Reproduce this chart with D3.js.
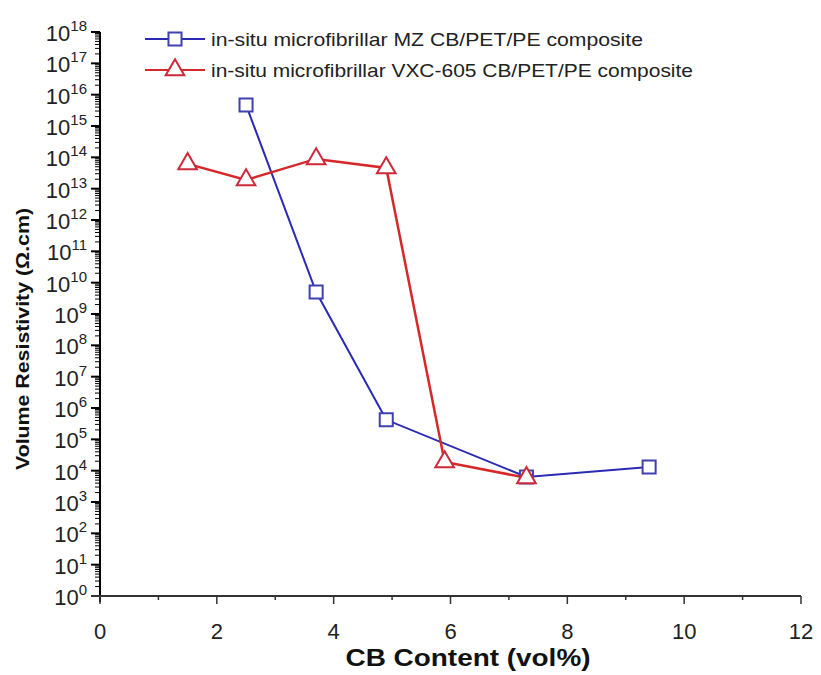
<!DOCTYPE html>
<html>
<head>
<meta charset="utf-8">
<script src="https://cdn.jsdelivr.net/npm/d3@7"></script>
<style>
  body { margin: 0; background: #fff; }
  text { font-family: "Liberation Sans", Arial, sans-serif; }
</style>
</head>
<body>
<svg id="chart"></svg>
<script>
// CB content (vol%) and volume resistivity (ohm.cm)
const mzX = [2.5, 3.7, 4.9, 7.3, 9.4];
const mzY = [4.7e15, 5.0e9, 4.2e5, 6.3e3, 1.3e4];
const vxcX = [1.5, 2.5, 3.7, 4.9, 5.9, 7.3];
const vxcY = [6.2e13, 1.9e13, 8.9e13, 4.6e13, 1.9e4, 5.9e3];

const seriesNames = [
  "in-situ microfibrillar MZ CB/PET/PE composite",
  "in-situ microfibrillar VXC-605 CB/PET/PE composite"
];
const xTicks = [0, 2, 4, 6, 8, 10, 12];
const yExponents = d3.range(0, 19);

const width = 821;
const height = 675;

const svg = d3.select("#chart").attr("width", width).attr("height", height);

const x = d3.scaleLinear().domain([0, 12]).range([100, 801]);
const y = d3.scaleLog().domain([1, 1e18]).range([596, 32]);

const blue = "#2a2ab4";
const red = "#d62828";

// y axis: line, major + minor ticks
const yAxis = svg.append("g");
yAxis.append("line")
  .attr("x1", x(0)).attr("x2", x(0))
  .attr("y1", y(1e18)).attr("y2", y(1) + 6)
  .attr("stroke", "#000").attr("stroke-width", 2);

const minorVals = [];
yExponents.slice(0, -1).forEach(e => {
  for (let m = 2; m <= 9; m++) minorVals.push(m * Math.pow(10, e));
});
yAxis.selectAll(".minor")
  .data(minorVals)
  .enter()
  .append("line")
  .attr("x1", x(0) - 5).attr("x2", x(0))
  .attr("y1", d => y(d)).attr("y2", d => y(d))
  .attr("stroke", "#000").attr("stroke-width", 1);

yAxis.selectAll(".major")
  .data(yExponents)
  .enter()
  .append("line")
  .attr("x1", x(0) - 9).attr("x2", x(0))
  .attr("y1", d => y(Math.pow(10, d))).attr("y2", d => y(Math.pow(10, d)))
  .attr("stroke", "#000").attr("stroke-width", 2);

const yLabels = yAxis.selectAll(".ylab")
  .data(yExponents)
  .enter()
  .append("text")
  .attr("x", 87)
  .attr("y", d => y(Math.pow(10, d)) + 9)
  .attr("text-anchor", "end")
  .style("font-size", "22px")
  .style("fill", "#222");
yLabels.append("tspan").text("10");
yLabels.append("tspan")
  .attr("dy", -10)
  .style("font-size", "15px")
  .text(d => d);

// x axis
const xAxis = svg.append("g");
xAxis.append("line")
  .attr("x1", x(0) - 9).attr("x2", x(12))
  .attr("y1", y(1)).attr("y2", y(1))
  .attr("stroke", "#333").attr("stroke-width", 2);

xAxis.selectAll(".xminor")
  .data(d3.range(1, 12, 2))
  .enter()
  .append("line")
  .attr("x1", d => x(d)).attr("x2", d => x(d))
  .attr("y1", y(1)).attr("y2", y(1) + 4)
  .attr("stroke", "#333").attr("stroke-width", 1.5);

xAxis.selectAll(".xmajor")
  .data(xTicks)
  .enter()
  .append("line")
  .attr("x1", d => x(d)).attr("x2", d => x(d))
  .attr("y1", y(1)).attr("y2", y(1) + 8)
  .attr("stroke", "#333").attr("stroke-width", 1.5);

xAxis.selectAll(".xlab")
  .data(xTicks)
  .enter()
  .append("text")
  .attr("x", d => x(d))
  .attr("y", 639)
  .attr("text-anchor", "middle")
  .style("font-size", "22px")
  .style("fill", "#222")
  .text(d => d);

// axis titles (the reference lettering is a bit stretched sideways)
svg.append("text")
  .attr("x", 468)
  .attr("y", 666)
  .attr("text-anchor", "middle")
  .attr("textLength", 245)
  .attr("lengthAdjust", "spacingAndGlyphs")
  .style("font-size", "23px")
  .style("font-weight", "bold")
  .style("fill", "#111")
  .text("CB Content (vol%)");

svg.append("text")
  .attr("transform", "translate(29, 339) rotate(-90)")
  .attr("text-anchor", "middle")
  .attr("textLength", 262)
  .attr("lengthAdjust", "spacingAndGlyphs")
  .style("font-size", "18px")
  .style("font-weight", "bold")
  .style("fill", "#111")
  .text("Volume Resistivity (\u03A9.cm)");

// lines
const mzData = mzX.map((d, i) => [d, mzY[i]]);
const vxcData = vxcX.map((d, i) => [d, vxcY[i]]);
const line = d3.line().x(d => x(d[0])).y(d => y(d[1]));

svg.append("path")
  .datum(mzData)
  .attr("d", line)
  .attr("fill", "none")
  .attr("stroke", blue)
  .attr("stroke-width", 2);

svg.append("path")
  .datum(vxcData)
  .attr("d", line)
  .attr("fill", "none")
  .attr("stroke", red)
  .attr("stroke-width", 2.5);

const square = d3.symbol().type(d3.symbolSquare).size(170);
const triangle = d3.symbol().type(d3.symbolTriangle).size(150);

svg.selectAll(".mz")
  .data(mzData)
  .enter()
  .append("path")
  .attr("d", square)
  .attr("transform", d => `translate(${x(d[0])}, ${y(d[1])})`)
  .attr("fill", "#fff")
  .attr("stroke", "#4040b0")
  .attr("stroke-width", 2);

svg.selectAll(".vxc")
  .data(vxcData)
  .enter()
  .append("path")
  .attr("d", triangle)
  .attr("transform", d => `translate(${x(d[0])}, ${y(d[1])})`)
  .attr("fill", "#fff")
  .attr("stroke", "#cc2a3a")
  .attr("stroke-width", 2);

// legend
const legend = svg.append("g");
const legendRows = [
  { name: seriesNames[0], color: blue, mcolor: "#4040b0", sym: square, y: 39, len: 432 },
  { name: seriesNames[1], color: red, mcolor: "#cc2a3a", sym: triangle, y: 70, len: 482 }
];
legendRows.forEach(r => {
  legend.append("line")
    .attr("x1", 145).attr("x2", 205)
    .attr("y1", r.y).attr("y2", r.y)
    .attr("stroke", r.color).attr("stroke-width", 2);
  legend.append("path")
    .attr("d", r.sym)
    .attr("transform", `translate(175, ${r.y})`)
    .attr("fill", "#fff")
    .attr("stroke", r.mcolor)
    .attr("stroke-width", 2);
  legend.append("text")
    .attr("x", 211)
    .attr("y", r.y + 7)
    .attr("textLength", r.len)
    .attr("lengthAdjust", "spacingAndGlyphs")
    .style("font-size", "18.5px")
    .style("fill", "#222")
    .text(r.name);
});
</script>
</body>
</html>
